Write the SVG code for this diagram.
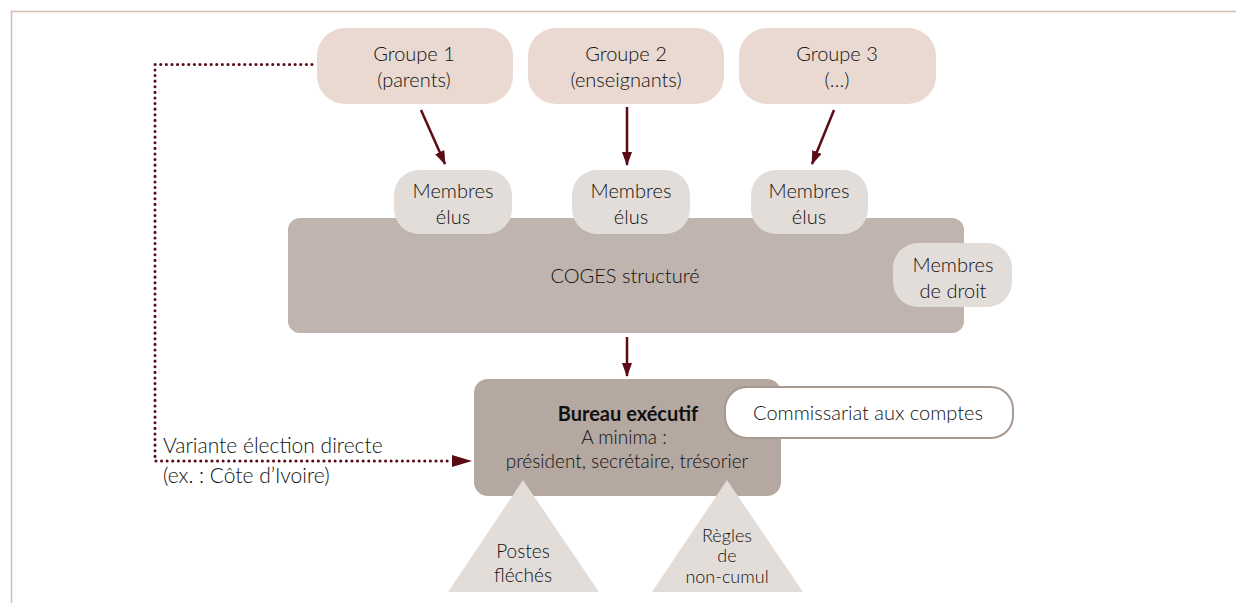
<svg xmlns="http://www.w3.org/2000/svg" width="1236" height="603" viewBox="0 0 1236 603">
<defs>
<marker id="ah" viewBox="0 0 14 10" refX="13" refY="5" markerWidth="5.6" markerHeight="4" orient="auto" markerUnits="strokeWidth">
<path d="M0,0 L14,5 L0,10 z" fill="#5a0b16"/>
</marker>
</defs>
<style>
text{font-family:Lato,"Open Sans","Noto Sans",sans-serif;font-size:20px;font-weight:300;fill:#111111;text-anchor:middle}
.sm{font-size:19px}
.xs{font-size:18px}
.grp{fill:#e9d9d1}
.mem{fill:#e2ddd9}
.tri{fill:#e2ddd9}
.conn{stroke:#5a0b16;stroke-width:2.5;fill:none}
.dot{stroke:#5a0b16;stroke-width:3;fill:none;stroke-dasharray:0.1 5.5;stroke-linecap:round}
</style>
<rect width="1236" height="603" fill="#ffffff"/>
<path d="M11.5,603 V11.5 H1236" fill="none" stroke="#d8b9ad" stroke-width="1.5"/>

<g id="groupe1"><rect class="grp" x="317" y="28" width="196" height="76" rx="28"/><text x="414" y="61">Groupe 1</text><text x="414" y="87">(parents)</text></g>
<g id="groupe2"><rect class="grp" x="528" y="28" width="196" height="76" rx="28"/><text x="626" y="61">Groupe 2</text><text x="626" y="87">(enseignants)</text></g>
<g id="groupe3"><rect class="grp" x="739" y="28" width="197" height="76" rx="28"/><text x="837" y="61">Groupe 3</text><text x="837" y="87">(…)</text></g>

<g id="coges"><rect x="288" y="218" width="676" height="115" rx="12" fill="#bfb4ae"/><text x="625" y="283">COGES structuré</text></g>

<g id="membres1"><rect class="mem" x="394" y="170" width="118" height="64" rx="25"/><text x="453" y="198">Membres</text><text x="453" y="224">élus</text></g>
<g id="membres2"><rect class="mem" x="572" y="170" width="118" height="64" rx="25"/><text x="631" y="198">Membres</text><text x="631" y="224">élus</text></g>
<g id="membres3"><rect class="mem" x="751" y="170" width="117" height="64" rx="25"/><text x="809" y="198">Membres</text><text x="809" y="224">élus</text></g>
<g id="membresdroit"><rect class="mem" x="893" y="243" width="119" height="64" rx="25"/><text x="953" y="272">Membres</text><text x="953" y="298">de droit</text></g>

<g id="bureau"><rect x="474" y="379" width="307" height="117" rx="14" fill="#b5a8a0"/><text x="628" y="421" style="font-weight:700">Bureau exécutif</text><text class="sm" x="624" y="444">A minima :</text><text class="sm" x="627" y="468">président, secrétaire, trésorier</text></g>

<g id="commissariat"><rect x="725" y="387" width="288" height="51" rx="22" fill="#ffffff" stroke="#a8998f" stroke-width="2"/><text x="868" y="420">Commissariat aux comptes</text></g>

<g id="postes"><polygon class="tri" points="523,480 599,592 448,592"/><text class="sm" x="523" y="558">Postes</text><text class="sm" x="523" y="582">fléchés</text></g>
<g id="regles"><polygon class="tri" points="727,480 803,592 652,592"/><text class="xs"><tspan x="727" y="542">Règles</tspan><tspan x="727" y="562">de</tspan><tspan x="727" y="583">non-cumul</tspan></text></g>

<g id="labels"><text x="163" y="453" style="text-anchor:start;font-size:21px">Variante élection directe</text><text x="163" y="483" style="text-anchor:start;font-size:21px">(ex. : Côte d’Ivoire)</text></g>

<g id="connectors">
<line class="conn" x1="421" y1="110" x2="445" y2="164" marker-end="url(#ah)"/>
<line class="conn" x1="627" y1="107" x2="627" y2="165" marker-end="url(#ah)"/>
<line class="conn" x1="834" y1="110" x2="812" y2="164" marker-end="url(#ah)"/>
<line class="conn" x1="627" y1="337" x2="627" y2="376" marker-end="url(#ah)"/>
<path class="dot" d="M312,64.5 H155 V461 H452"/>
<path d="M452,455 L472,461 L452,467 z" fill="#5a0b16"/>
</g>
</svg>
